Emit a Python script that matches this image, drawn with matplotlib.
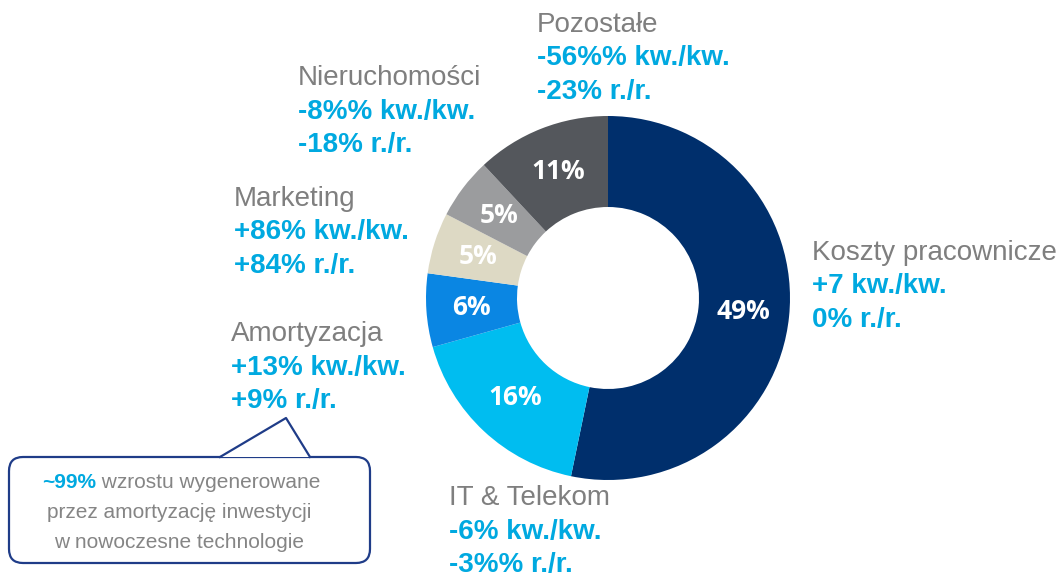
import matplotlib.pyplot as plt
from matplotlib.patches import FancyBboxPatch, Polygon

# Cost structure (share of total costs, %)
categories = ["Koszty pracownicze", "IT & Telekom", "Amortyzacja",
              "Marketing", "Nieruchomości", "Pozostałe"]
shares = [49, 16, 6, 5, 5, 11]
qoq = ["+7 kw./kw.", "-6% kw./kw.", "+13% kw./kw.",
       "+86% kw./kw.", "-8%% kw./kw.", "-56%% kw./kw."]
yoy = ["0% r./r.", "-3%% r./r.", "+9% r./r.",
       "+84% r./r.", "-18% r./r.", "-23% r./r."]
colors = ["#002F6C", "#00BDF0", "#0A86E3", "#DDD9C4", "#9B9C9E", "#54575C"]

# label anchors in pixels (left x, baseline y of first line, from the top)
label_pos = [(812, 260), (449, 505), (231, 341), (234, 206), (298, 85), (537, 32)]
line_gap = 33.5

W, H = 1062, 576
fig = plt.figure(figsize=(W / 100, H / 100), dpi=100)
ax = fig.add_axes([0, 0, 1, 1])

wedges, texts = ax.pie(shares, labels=[f"{s}%" for s in shares],
                       colors=colors, startangle=90, counterclock=False,
                       center=(608, H - 298), radius=182,
                       labeldistance=0.75,
                       wedgeprops=dict(width=91, linewidth=0),
                       textprops=dict(color="white", fontsize=19,
                                      fontweight="bold", family="Open Sans"))
for t in texts:
    t.set_ha("center")
    t.set_va("center")

ax.set_xlim(0, W)
ax.set_ylim(0, H)
ax.set_aspect("equal")
ax.axis("off")

gray = "#7F7F7F"
cyan = "#00A9E0"
for name, q, y, (x, yb) in zip(categories, qoq, yoy, label_pos):
    ax.text(x, H - yb, name, color=gray, fontsize=20,
            family="Liberation Sans", va="baseline", ha="left")
    ax.text(x, H - yb - line_gap, q, color=cyan, fontsize=20,
            fontweight="bold", family="Liberation Sans", va="baseline", ha="left")
    ax.text(x, H - yb - 2 * line_gap, y, color=cyan, fontsize=20,
            fontweight="bold", family="Liberation Sans", va="baseline", ha="left")

# callout box
navy = "#1F3C88"
box = FancyBboxPatch((9, H - 563), 361, 106,
                     boxstyle="round,pad=0,rounding_size=14",
                     facecolor="white", edgecolor=navy, linewidth=1.6)
ax.add_patch(box)
ax.add_patch(Polygon([(220, H - 457), (286, H - 418), (310, H - 457)],
                     closed=True, facecolor="white", edgecolor="none", zorder=3))
ax.plot([220, 286, 310], [H - 457, H - 418, H - 457], color=navy,
        linewidth=1.6, zorder=4)

ax.text(96, H - 488, "~99%", color=cyan, fontsize=15, fontweight="bold",
        family="Liberation Sans", ha="right", va="baseline")
ax.text(96, H - 488, " wzrostu wygenerowane", color="#858585", fontsize=15,
        family="Liberation Sans", ha="left", va="baseline")
ax.text(179, H - 518, "przez amortyzację inwestycji", color="#858585", fontsize=15,
        family="Liberation Sans", ha="center", va="baseline")
ax.text(179, H - 548, "w nowoczesne technologie", color="#858585", fontsize=15,
        family="Liberation Sans", ha="center", va="baseline")

fig.savefig("out.png", dpi=100)
